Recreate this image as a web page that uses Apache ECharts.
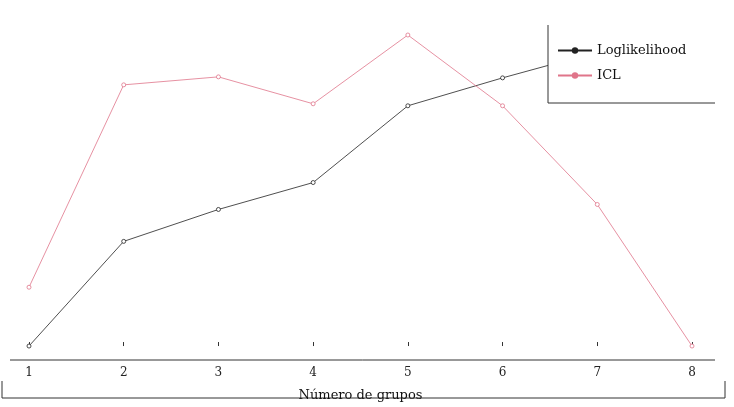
<!DOCTYPE html>
<html><head><meta charset="utf-8">
<script src="https://cdn.jsdelivr.net/npm/echarts@6/dist/echarts.min.js"></script>
<style>html,body{margin:0;background:#fff}#main{width:734px;height:407px}</style>
</head><body><div id="main"></div>
<script>
var grupos = ['1', '2', '3', '4', '5', '6', '7', '8'];
var loglik = [0, 105, 137, 164, 241, 269, 295, 310];
var icl = [59, 262, 270, 243, 312, 241, 142, 0];

var chart = echarts.init(document.getElementById('main'));
var font = 'DejaVu Serif';
chart.setOption({
    backgroundColor: '#fff',
    animation: false,
    grid: { left: 29, right: 42, top: 35, bottom: 47 },
    xAxis: {
        type: 'category', data: grupos, boundaryGap: false,
        axisLine: { show: false },
        axisTick: { show: true, inside: true, alignWithLabel: true, length: 4, lineStyle: { color: '#333' } },
        axisLabel: { color: '#222', fontFamily: font, fontSize: 12, margin: 8 },
        name: 'Número de grupos', nameLocation: 'middle', nameGap: 30,
        nameTextStyle: { color: '#111', fontFamily: font, fontSize: 13 }
    },
    yAxis: { type: 'value', min: -13, max: 312, show: false, splitLine: { show: false } },
    series: [
        { name: 'Loglikelihood', type: 'line', data: loglik, symbol: 'circle', symbolSize: 4,
          lineStyle: { color: '#222', width: 0.8 }, itemStyle: { color: '#fff', borderColor: '#222', borderWidth: 0.8 }, z: 1 },
        { name: 'ICL', type: 'line', data: icl, symbol: 'circle', symbolSize: 4,
          lineStyle: { color: '#e0758a', width: 0.8 }, itemStyle: { color: '#fff', borderColor: '#e0758a', borderWidth: 0.8 }, z: 2 }
    ],
    graphic: [
        { type: 'line', shape: { x1: 10, y1: 360, x2: 715, y2: 360 }, style: { stroke: '#333', lineWidth: 1 } },
        { type: 'polyline', shape: { points: [[2, 381], [2, 398], [725, 398], [725, 381]] }, style: { stroke: '#333', fill: null, lineWidth: 1 } },
        { type: 'rect', shape: { x: 548, y: 25, width: 167, height: 78 }, style: { fill: '#fff' }, z: 10 },
        { type: 'polyline', shape: { points: [[548, 25], [548, 103], [715, 103]] }, style: { stroke: '#333', fill: null, lineWidth: 1 }, z: 11 }
    ],
    legend: {
        left: 552, top: 39, orient: 'vertical', itemGap: 12, itemWidth: 34, itemHeight: 8, z: 12,
        data: [
            { name: 'Loglikelihood', itemStyle: { color: '#222', borderWidth: 0 } },
            { name: 'ICL', itemStyle: { color: '#e0758a', borderWidth: 0 } }
        ],
        textStyle: { fontFamily: font, fontSize: 13, color: '#111' }
    }
});
</script></body></html>
